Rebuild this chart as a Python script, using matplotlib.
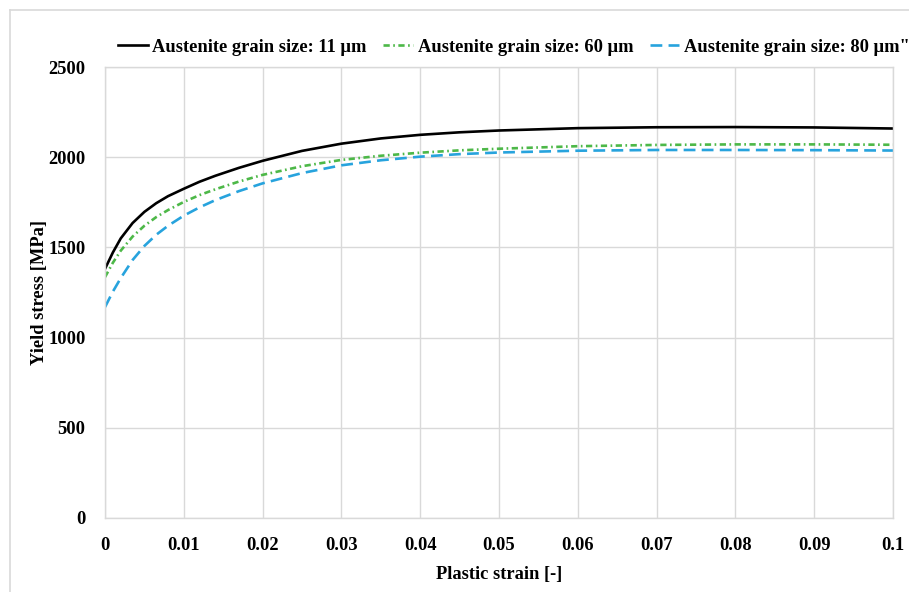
import numpy as np
import matplotlib
matplotlib.use("Agg")
import matplotlib.pyplot as plt
from matplotlib.lines import Line2D

plt.rcParams['font.family'] = ['Liberation Serif', 'DejaVu Serif']
plt.rcParams['font.weight'] = 'bold'
plt.rcParams['lines.scale_dashes'] = False

# data
strain = [0, 0.001, 0.002, 0.0035, 0.005, 0.0065, 0.008, 0.01, 0.012, 0.014,
          0.017, 0.02, 0.025, 0.03, 0.035, 0.04, 0.045, 0.05, 0.06, 0.07,
          0.08, 0.09, 0.1]
stress_11 = [1381, 1472, 1550, 1635, 1697, 1745, 1784, 1825, 1864, 1897,
             1941, 1980, 2035, 2075, 2104, 2124, 2138, 2148, 2161, 2166,
             2167, 2165, 2159]
stress_60 = [1335, 1415, 1482, 1560, 1620, 1668, 1707, 1752, 1790, 1822,
             1865, 1902, 1950, 1985, 2008, 2025, 2038, 2047, 2061, 2068,
             2071, 2071, 2069]
stress_80 = [1169, 1255, 1330, 1430, 1508, 1570, 1620, 1676, 1722, 1762,
             1812, 1855, 1912, 1955, 1983, 2003, 2017, 2026, 2036, 2040,
             2040, 2039, 2037]
labels = ["Austenite grain size: 11 \u03bcm",
          "Austenite grain size: 60 \u03bcm",
          "Austenite grain size: 80 \u03bcm\""]

xticks = np.arange(0, 0.1001, 0.01)
xticklabels = ["0", "0.01", "0.02", "0.03", "0.04", "0.05", "0.06", "0.07", "0.08", "0.09", "0.1"]
yticks = [0, 500, 1000, 1500, 2000, 2500]

grid_c = '#d9d9d9'
fs = 13.3

fig = plt.figure(figsize=(9.09, 5.92), dpi=100)
ax = fig.add_axes([105/909, 1-518/592, (893-105)/909, (518-67)/592])

# outer frame (only top and left visible)
fig.add_artist(Line2D([10/909, 10/909], [0, 1-10/592], color=grid_c, lw=1.2, transform=fig.transFigure))
fig.add_artist(Line2D([10/909, 1], [1-10/592, 1-10/592], color=grid_c, lw=1.2, transform=fig.transFigure))

ax.plot(strain, stress_11, color='black', lw=1.9, label=labels[0])
ax.plot(strain, stress_60, color='#4db848', lw=1.9, linestyle=(0, (4.5, 2.5, 1.2, 2.5)), label=labels[1])
ax.plot(strain, stress_80, color='#27a3dd', lw=1.9, linestyle=(0, (8.5, 4.5)), label=labels[2])

ax.set_xlim(0, 0.1)
ax.set_ylim(0, 2500)
ax.set_xticks(xticks)
ax.set_xticklabels(xticklabels)
ax.set_yticks(yticks)
ax.grid(True, color=grid_c, lw=1)
ax.set_axisbelow(True)
for s in ax.spines.values():
    s.set_color(grid_c)
    s.set_linewidth(1)
ax.tick_params(length=0, labelsize=fs)
ax.tick_params(axis='x', pad=14)
ax.tick_params(axis='y', pad=14)

ax.set_xlabel("Plastic strain [-]", fontsize=fs, fontweight='bold', labelpad=8)
ax.set_ylabel("Yield stress [MPa]", fontsize=fs, fontweight='bold', labelpad=0)

ax.legend(loc='lower center', bbox_to_anchor=(0.519, 1.0), ncol=3, frameon=False,
          fontsize=fs, handlelength=1.6, columnspacing=0.9, handletextpad=0.25,
          borderaxespad=0.2)

fig.savefig("out.png", dpi=100)
